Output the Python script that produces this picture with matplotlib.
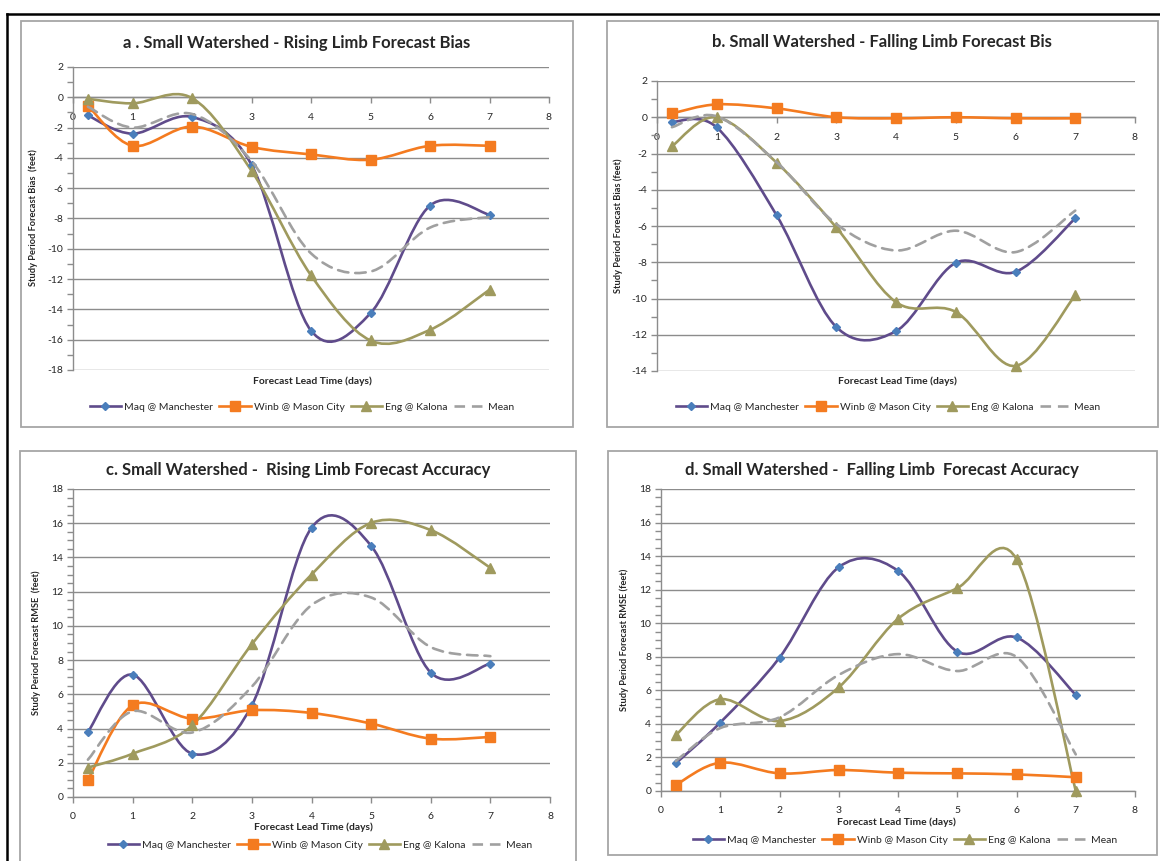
import numpy as np
import matplotlib
matplotlib.use("Agg")
import matplotlib.pyplot as plt
from matplotlib.path import Path
from matplotlib.patches import PathPatch, Rectangle
from matplotlib.lines import Line2D
from matplotlib.ticker import MultipleLocator

plt.rcParams['font.family'] = ['Lato', 'DejaVu Sans']

# ---------------- data ----------------
lead_days = [0.25, 1, 2, 3, 4, 5, 6, 7]
series_names = ["Maq @ Manchester", "Winb @ Mason City", "Eng @ Kalona", "Mean"]

# a. Rising limb bias
a_maq = [-1.2, -2.4, -1.3, -4.45, -15.4, -14.25, -7.15, -7.75]
a_winb = [-0.55, -3.2, -1.93, -3.27, -3.77, -4.12, -3.2, -3.2]
a_eng = [-0.1, -0.4, -0.05, -4.85, -11.75, -16.05, -15.35, -12.7]
a_mean = [-0.62, -2.0, -1.1, -4.2, -10.3, -11.5, -8.6, -7.9]

# b. Falling limb bias
b_maq = [-0.25, -0.56, -5.4, -11.57, -11.8, -8.03, -8.53, -5.58]
b_winb = [0.21, 0.71, 0.49, 0.0, -0.06, 0.0, -0.06, -0.06]
b_eng = [-1.6, 0.0, -2.5, -6.08, -10.2, -10.74, -13.72, -9.82]
b_mean = [-0.55, 0.05, -2.47, -5.89, -7.35, -6.26, -7.44, -5.15]

# c. Rising limb RMSE
c_maq = [3.8, 7.15, 2.53, 5.36, 15.73, 14.68, 7.27, 7.8]
c_winb = [1.0, 5.36, 4.58, 5.07, 4.91, 4.29, 3.41, 3.51]
c_eng = [1.72, 2.53, 4.19, 8.93, 13.0, 16.02, 15.6, 13.39]
c_mean = [2.18, 5.01, 3.77, 6.45, 11.21, 11.66, 8.76, 8.23]

# d. Falling limb RMSE
d_maq = [1.65, 4.08, 7.95, 13.34, 13.12, 8.31, 9.15, 5.73]
d_winb = [0.36, 1.69, 1.05, 1.25, 1.09, 1.05, 0.99, 0.82]
d_eng = [3.34, 5.47, 4.17, 6.18, 10.26, 12.09, 13.82, 0.0]
d_mean = [1.78, 3.75, 4.39, 6.92, 8.16, 7.15, 7.99, 2.18]

x_ticks = [0, 1, 2, 3, 4, 5, 6, 7, 8]

# ---------------- styles ----------------
C_MAQ = '#5F4B8B'
C_MAQ_MK = '#4A7EBB'
C_WINB = '#F47B20'
C_ENG = '#9F9A5E'
C_MEAN = '#A0A0A0'
GRID = '#8C8C8C'
TXT = '#262626'
LW = 1.9
DASH = (0, (4.0, 2.6))

W, H = 1160, 861
fig = plt.figure(figsize=(W / 100, H / 100), dpi=100)
fig.patch.set_facecolor('white')


def fx(x):
    return x / W


def fy(y):
    return 1 - y / H


def rect(l, t, r, b):
    return [fx(l), fy(b), (r - l) / W, (b - t) / H]


def smooth(ax, x, y, **kw):
    pts = np.column_stack([np.asarray(x, float), np.asarray(y, float)])
    n = len(pts)
    verts = [pts[0]]
    codes = [Path.MOVETO]
    for i in range(n - 1):
        p0 = pts[i - 1] if i > 0 else pts[i]
        p1 = pts[i]
        p2 = pts[i + 1]
        p3 = pts[i + 2] if i + 2 < n else pts[i + 1]
        c1 = p1 + (p2 - p0) / 6.0
        c2 = p2 - (p3 - p1) / 6.0
        verts += [c1, c2, p2]
        codes += [Path.CURVE4] * 3
    patch = PathPatch(Path(verts, codes), fill=False, capstyle='round',
                      joinstyle='round', **kw)
    ax.add_patch(patch)
    return patch


panels = [
    dict(data=(a_maq, a_winb, a_eng, a_mean), box=(73, 67, 549, 370), ylim=(-18, 2),
         major=2, minor=1, cross0=True,
         title="a . Small Watershed - Rising Limb Forecast Bias", tpos=(297, 43),
         ylabel="Study Period Forecast Bias  (feet)", ylpos=(33, 218),
         xlpos=(312, 381), legpos=(302, 407), frame=(21, 21, 573, 427)),
    dict(data=(b_maq, b_winb, b_eng, b_mean), box=(657, 81, 1135, 371), ylim=(-14, 2),
         major=2, minor=1, cross0=True,
         title="b. Small Watershed - Falling Limb Forecast Bis", tpos=(882, 42),
         ylabel="Study Period Forecast Bias (feet)", ylpos=(618, 226),
         xlpos=(897, 381), legpos=(888, 407), frame=(607, 21, 1158, 427)),
    dict(data=(c_maq, c_winb, c_eng, c_mean), box=(73, 489, 550, 797), ylim=(0, 18),
         major=2, minor=0.5, cross0=False,
         title="c. Small Watershed -  Rising Limb Forecast Accuracy", tpos=(298, 470),
         ylabel="Study Period Forecast RMSE  (feet)", ylpos=(36, 643),
         xlpos=(313, 827), legpos=(320, 845), frame=(20, 451, 576, 870)),
    dict(data=(d_maq, d_winb, d_eng, d_mean), box=(661, 489, 1135, 791), ylim=(0, 18),
         major=2, minor=0.5, cross0=False,
         title="d. Small Watershed -  Falling Limb  Forecast Accuracy", tpos=(882, 470),
         ylabel="Study Period Forecast RMSE (feet)", ylpos=(624, 640),
         xlpos=(896, 822), legpos=(905, 840), frame=(608, 451, 1157, 855)),
]

for p in panels:
    # panel frame
    l, t, r, b = p['frame']
    fig.add_artist(Rectangle((fx(l), fy(b)), (r - l) / W, (b - t) / H,
                             transform=fig.transFigure, fill=False,
                             ec='#A6A6A6', lw=1.3, zorder=0))
    ax = fig.add_axes(rect(*p['box']))
    ax.set_xlim(0, 8)
    ax.set_ylim(*p['ylim'])
    ax.set_facecolor('none')
    ax.set_xticks(x_ticks)
    ax.yaxis.set_major_locator(MultipleLocator(p['major']))
    ax.yaxis.set_minor_locator(MultipleLocator(p['minor']))
    ax.grid(axis='y', which='major', color=GRID, lw=1.0)
    ax.set_axisbelow(True)
    for s in ('top', 'right'):
        ax.spines[s].set_visible(False)
    ax.spines['left'].set_color(GRID)
    ax.spines['bottom'].set_color(GRID)
    ax.spines['left'].set_linewidth(1.0)
    ax.spines['bottom'].set_linewidth(1.0)
    if p['cross0']:
        ax.spines['bottom'].set_position(('data', 0))
    ax.tick_params(axis='both', which='both', direction='out', color=GRID,
                   labelcolor=TXT, labelsize=7.5, width=1.0)
    ax.tick_params(axis='y', which='major', length=4, pad=3)
    ax.tick_params(axis='y', which='minor', length=4)
    ax.tick_params(axis='x', which='major', length=4, pad=7)
    ax.set_yticks(np.arange(p['ylim'][0], p['ylim'][1] + 0.01, p['major']))
    ax.set_yticklabels([f"{int(v)}" for v in ax.get_yticks()])

    maq, winb, eng, mean = p['data']
    smooth(ax, lead_days, maq, color=C_MAQ, lw=LW, zorder=3)
    ax.plot(lead_days, maq, ls='none', marker='D', ms=4, mfc=C_MAQ_MK,
            mec=C_MAQ_MK, zorder=4, clip_on=False)
    smooth(ax, lead_days, winb, color=C_WINB, lw=LW, zorder=3)
    ax.plot(lead_days, winb, ls='none', marker='s', ms=6.5, mfc=C_WINB,
            mec=C_WINB, zorder=4, clip_on=False)
    smooth(ax, lead_days, eng, color=C_ENG, lw=LW, zorder=3)
    ax.plot(lead_days, eng, ls='none', marker='^', ms=7, mfc=C_ENG,
            mec=C_ENG, zorder=4, clip_on=False)
    smooth(ax, lead_days, mean, color=C_MEAN, lw=1.9, ls=DASH, zorder=5)

    fig.text(fx(p['tpos'][0]), fy(p['tpos'][1]), p['title'], ha='center', va='center',
             fontsize=12, fontweight='bold', color=TXT)
    fig.text(fx(p['ylpos'][0]), fy(p['ylpos'][1]), p['ylabel'], ha='center', va='center',
             rotation=90, fontsize=6.7, fontweight='bold', color=TXT)
    fig.text(fx(p['xlpos'][0]), fy(p['xlpos'][1]), "Forecast Lead Time (days)",
             ha='center', va='center', fontsize=7.4, fontweight='bold', color=TXT)

    handles = [
        Line2D([], [], color=C_MAQ, lw=LW, marker='D', ms=4, mfc=C_MAQ_MK, mec=C_MAQ_MK),
        Line2D([], [], color=C_WINB, lw=LW, marker='s', ms=6.5, mfc=C_WINB, mec=C_WINB),
        Line2D([], [], color=C_ENG, lw=LW, marker='^', ms=7, mfc=C_ENG, mec=C_ENG),
        Line2D([], [], color=C_MEAN, lw=1.9, ls=DASH),
    ]
    fig.legend(handles, series_names, loc='center', ncol=4,
               bbox_to_anchor=(fx(p['legpos'][0]), fy(p['legpos'][1])),
               frameon=False, fontsize=7.5, handlelength=3.0, handletextpad=0.3,
               columnspacing=0.6, labelcolor=TXT, borderaxespad=0, borderpad=0)

# outer black frame lines
fig.add_artist(Line2D([fx(7), 1.0], [fy(14), fy(14)], transform=fig.transFigure,
                      color='black', lw=1.8))
fig.add_artist(Line2D([fx(7), fx(7)], [fy(14), 0.0], transform=fig.transFigure,
                      color='black', lw=1.8))

fig.savefig("out.png", dpi=100, facecolor='white')
